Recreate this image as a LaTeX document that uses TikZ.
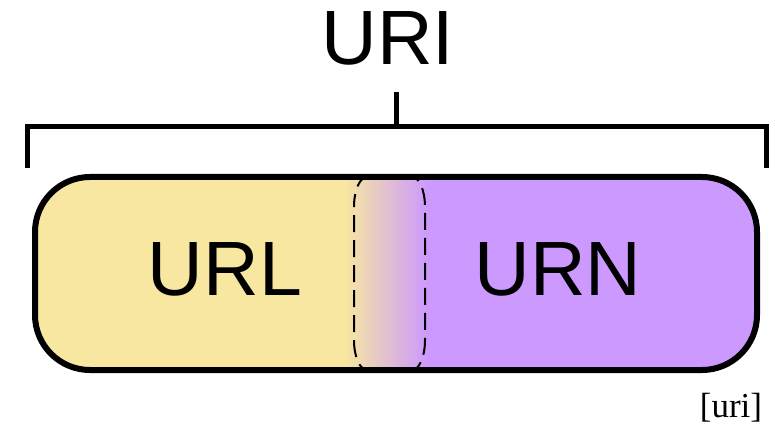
\documentclass[tikz,border=0pt]{standalone}
\usepackage{fontspec}
\setmainfont{Liberation Serif}
\newfontfamily\labelfont{Liberation Sans}
\definecolor{urlyellow}{HTML}{F7E7A1}
\definecolor{urnpurple}{HTML}{CC99FF}
\begin{document}
\begin{tikzpicture}[x=1pt,y=-1pt,
  bigtext/.style={font=\labelfont\fontsize{77}{80}\selectfont, inner sep=0pt, anchor=base},
  bracketline/.style={line width=5pt},
  outline/.style={line width=6pt, rounded corners=55pt},
  overlap/.style={line width=2pt, dash pattern=on 17pt off 8pt, dash phase=4pt}]
\useasboundingbox (0,0) rectangle (775,427);

% coloured fill of the pill, blending across the overlap
\begin{scope}
  \clip[rounded corners=55pt] (35,177) rectangle (757,370);
  \fill[urlyellow] (30,170) rectangle (346,375);
  \shade[left color=urlyellow, right color=urnpurple] (345,170) rectangle (428,375);
  \fill[urnpurple] (427,170) rectangle (762,375);
\end{scope}
\draw[outline] (35,177) rectangle (757,370);

% dashed overlap region
\draw[overlap] (354,207) arc[start angle=180, end angle=270, x radius=13, y radius=30]
  -- (412,177) arc[start angle=270, end angle=360, x radius=13, y radius=30]
  -- (425,340) arc[start angle=0, end angle=90, x radius=13, y radius=30]
  -- (367,370) arc[start angle=90, end angle=180, x radius=13, y radius=30]
  -- cycle;

% bracket spanning the whole URI
\draw[bracketline] (27,168) -- (27,127) -- (766,127) -- (766,168);
\draw[bracketline] (396,127) -- (396,92);

% labels
\node[bigtext] (uri) at (388,65) {URI};
\node[bigtext] (url) at (225,295) {URL};
\node[bigtext] (urn) at (558,295) {URN};
\node[font=\fontsize{35}{38}\selectfont, inner sep=0pt, anchor=base] (tag) at (731,417) {[uri]};
\end{tikzpicture}
\end{document}
